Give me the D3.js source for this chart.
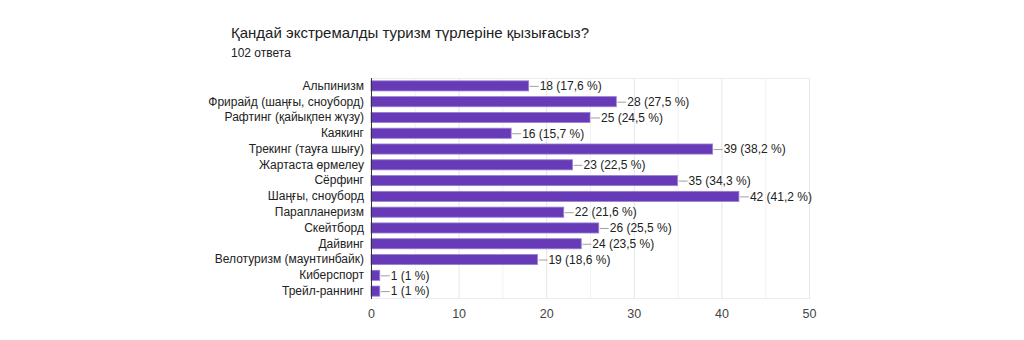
<!DOCTYPE html>
<html>
<head>
<meta charset="utf-8">
<script src="https://cdn.jsdelivr.net/npm/d3@7"></script>
<style>
  html, body { margin: 0; padding: 0; background: #fff; }
  svg { display: block; font-family: Arial, "Liberation Sans", sans-serif; }
</style>
</head>
<body>
<svg id="chart" width="1024" height="340"></svg>
<script>
const categories = [
  "Альпинизм",
  "Фрирайд (шаңғы, сноуборд)",
  "Рафтинг (қайықпен жүзу)",
  "Каякинг",
  "Трекинг (тауға шығу)",
  "Жартаста өрмелеу",
  "Сёрфинг",
  "Шаңғы, сноуборд",
  "Парапланеризм",
  "Скейтборд",
  "Дайвинг",
  "Велотуризм (маунтинбайк)",
  "Киберспорт",
  "Трейл-раннинг"
];
const counts = [18, 28, 25, 16, 39, 23, 35, 42, 22, 26, 24, 19, 1, 1];
const percents = ["17,6", "27,5", "24,5", "15,7", "38,2", "22,5", "34,3", "41,2", "21,6", "25,5", "23,5", "18,6", "1", "1"];
const xTicks = [0, 10, 20, 30, 40, 50];
const xMinorTicks = [5, 15, 25, 35, 45];
const title = "Қандай экстремалды туризм түрлеріне қызығасыз?";
const subtitle = "102 ответа";

const svg = d3.select("#chart");
const FONT = "Arial, 'Liberation Sans', sans-serif";

const x = d3.scaleLinear().domain([0, 50]).range([371, 809]);
const y = d3.scaleBand().domain(categories).range([78, 299])
  .paddingInner(0.36).paddingOuter(0.18);

// Heading
svg.append("text").attr("x", 231).attr("y", 38)
  .attr("font-size", 15).attr("fill", "#202124").text(title);
svg.append("text").attr("x", 231).attr("y", 57)
  .attr("font-size", 12).attr("fill", "#202124").text(subtitle);

// Grid
const grid = svg.append("g");
grid.selectAll("line.minor").data(xMinorTicks).join("line")
  .attr("class", "minor")
  .attr("x1", d => x(d) + 0.5).attr("x2", d => x(d) + 0.5)
  .attr("y1", 78).attr("y2", 299)
  .attr("stroke", "#f2f2f2");
grid.selectAll("line.major").data(xTicks.slice(1)).join("line")
  .attr("class", "major")
  .attr("x1", d => x(d) + 0.5).attr("x2", d => x(d) + 0.5)
  .attr("y1", 78).attr("y2", 299)
  .attr("stroke", "#e6e6e6");
grid.append("line").attr("x1", x(0)).attr("x2", x(50) + 1)
  .attr("y1", 78.5).attr("y2", 78.5).attr("stroke", "#ececec");
grid.append("line").attr("x1", x(0)).attr("x2", x(50) + 1)
  .attr("y1", 298.5).attr("y2", 298.5).attr("stroke", "#ececec");

// X axis
const xAxis = d3.axisBottom(x).tickValues(xTicks).tickSize(0).tickPadding(0);
const gx = svg.append("g").attr("transform", "translate(0,318)").call(xAxis);
gx.select(".domain").remove();
gx.selectAll("text").attr("font-size", 12.5).attr("fill", "#444")
  .attr("font-family", FONT).attr("dy", 0);

// Bars
svg.selectAll("rect.bar").data(categories).join("rect")
  .attr("class", "bar")
  .attr("x", x(0))
  .attr("y", d => y(d))
  .attr("width", (d, i) => x(counts[i]) - x(0))
  .attr("height", y.bandwidth())
  .attr("fill", "#673ab7")
  .attr("stroke", "#9a7fd1").attr("stroke-width", 0.8);

// Y axis line
svg.append("line").attr("x1", x(0) + 0.5).attr("x2", x(0) + 0.5)
  .attr("y1", 78).attr("y2", 299).attr("stroke", "#333").attr("stroke-width", 1);

// Category labels
const yAxis = d3.axisLeft(y).tickSize(0).tickPadding(7);
const gy = svg.append("g").attr("transform", `translate(${x(0)},0)`).call(yAxis);
gy.select(".domain").remove();
gy.selectAll("text").attr("font-size", 12).attr("fill", "#222")
  .attr("font-family", FONT);

// Value labels with leader lines
const lab = svg.selectAll("g.val").data(categories).join("g").attr("class", "val");
lab.append("line")
  .attr("x1", (d, i) => x(counts[i]) + 1)
  .attr("x2", (d, i) => x(counts[i]) + 10)
  .attr("y1", d => y(d) + y.bandwidth() / 2 + 0.5)
  .attr("y2", d => y(d) + y.bandwidth() / 2 + 0.5)
  .attr("stroke", "#a0a0a0").attr("stroke-width", 1);
lab.append("text")
  .attr("x", (d, i) => x(counts[i]) + 11)
  .attr("y", d => y(d) + y.bandwidth() / 2)
  .attr("dy", "0.36em")
  .attr("font-size", 12).attr("fill", "#222")
  .text((d, i) => `${counts[i]} (${percents[i]} %)`);
</script>
</body>
</html>
